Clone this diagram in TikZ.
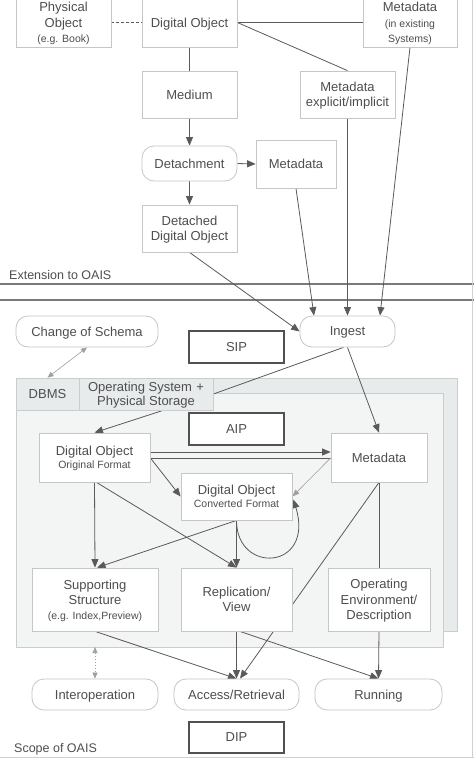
\documentclass[tikz,border=0pt]{standalone}
\usepackage{fontspec}
\setmainfont{Liberation Sans}
\usetikzlibrary{arrows.meta,calc}
\definecolor{txt}{HTML}{4E4E4E}
\definecolor{ln}{HTML}{5A5A5A}
\definecolor{lt}{HTML}{A0A0A0}
\definecolor{bx}{HTML}{C6C6C6}
\definecolor{pA}{HTML}{E8EBEC}
\definecolor{pB}{HTML}{F3F4F4}
\definecolor{pbd}{HTML}{C9CDCE}
\definecolor{sep}{HTML}{7A7A7A}
\pgfdeclarelayer{panel}\pgfdeclarelayer{lines}\pgfsetlayers{panel,lines,main}
\tikzset{
  box/.style={draw=bx, line width=0.8pt, fill=white, inner sep=0pt, align=center,
    text=txt, font=\fontsize{13}{15.5}\selectfont, text depth=0pt},
  rbox/.style={box, rounded corners=12pt},
  pkg/.style={draw=ln!90!black, line width=1.5pt, fill=white, inner sep=0pt, text depth=0pt,
    minimum width=95pt, minimum height=32pt, text=txt, font=\fontsize{13}{15}\selectfont},
  cell/.style={draw=pbd, line width=0.8pt, fill=pA, inner sep=0pt, align=center, text depth=0pt,
    text=txt, font=\fontsize{13}{14.5}\selectfont},
  conn/.style={draw=ln, line width=0.8pt},
  arr/.style={conn, -{Triangle[length=8.5pt,width=7pt]}},
  larr/.style={draw=lt, line width=0.6pt, -{Triangle[length=7pt,width=5.5pt]}},
  darr/.style={draw=lt, line width=0.6pt, {Triangle[length=6pt,width=5pt]}-{Triangle[length=6pt,width=5pt]}},
  lab/.style={text=txt, font=\fontsize{12.5}{15}\selectfont, anchor=west, inner sep=0pt, text depth=0pt},
}
\newcommand{\sm}[1]{{\fontsize{10.5}{12.5}\selectfont #1}}
\begin{document}
\begin{tikzpicture}[x=1pt,y=-1pt]
\clip (0,0) rectangle (474,758);

% panels
\begin{pgfonlayer}{panel}
  \fill[white] (0,0) rectangle (474,758);
  \draw[pbd, line width=0.8pt, fill=pA] (16,378) rectangle (457,631);
  \draw[pbd, line width=0.8pt, fill=pB] (16,393) rectangle (443,647);
  \draw[sep, line width=2pt] (0,283.5) -- (474,283.5);
  \draw[sep, line width=2pt] (0,299.5) -- (474,299.5);
  \draw[bx!80!white, line width=1.5pt] (472.5,0) -- (472.5,758);
  \draw[bx!80!white, line width=1.5pt] (0,757.5) -- (474,757.5);
\end{pgfonlayer}

% top nodes
\node[box, minimum width=95pt, minimum height=49pt] (phys) at (63.5,22.5)
  {Physical\\Object\\\sm{(e.g. Book)}};
\node[box, minimum width=95pt, minimum height=49pt] (digobj) at (189.5,22.5) {Digital Object};
\node[box, minimum width=94pt, minimum height=49pt] (metaex) at (410,22.5)
  {Metadata\\\sm{(in existing}\\\sm{Systems)}};
\node[box, minimum width=95pt, minimum height=47pt] (medium) at (189.5,94.5) {Medium};
\node[box, minimum width=95pt, minimum height=47pt] (metaexp) at (347.5,94.5)
  {Metadata\\explicit/implicit};
\node[rbox, minimum width=95pt, minimum height=35pt] (detach) at (189.5,163.5) {Detachment};
\node[box, minimum width=80pt, minimum height=48pt] (meta2) at (296,164) {Metadata};
\node[box, minimum width=95pt, minimum height=47pt] (detached) at (189.5,228.5)
  {Detached\\Digital Object};

\node[lab] (ext) at (9,275) {Extension to OAIS};

% OAIS part
\node[rbox, minimum width=95pt, minimum height=31pt] (ingest) at (347.5,331.5) {Ingest};
\node[rbox, minimum width=142pt, minimum height=31pt] (schema) at (87,331.5) {Change of Schema};
\node[pkg] (sip) at (236.5,347) {SIP};
\node[cell, minimum width=63pt, minimum height=32pt] (dbms) at (47.5,394) {DBMS};
\node[cell, minimum width=134pt, minimum height=32pt] (os) at (146,394)
  {Operating System\,\,+\\Physical Storage};
\node[pkg] (aip) at (236.5,429) {AIP};
\node[box, minimum width=111pt, minimum height=49pt] (doorig) at (94.5,457.5)
  {Digital Object\\[-2pt]\sm{Original Format}};
\node[box, minimum width=96pt, minimum height=49pt] (meta3) at (379,457.5) {Metadata};
\node[box, minimum width=111pt, minimum height=47pt] (doconv) at (236.5,496.5)
  {Digital Object\\[-2pt]\sm{Converted\,\,Format}};
\node[box, minimum width=126pt, minimum height=63pt] (supp) at (95,599.5)
  {Supporting\\Structure\\[-1pt]\sm{(e.g. Index,Preview)}};
\node[box, minimum width=111pt, minimum height=63pt] (repl) at (236.5,599.5)
  {Replication/\\View};
\node[box, minimum width=102pt, minimum height=63pt] (openv) at (379,599.5)
  {Operating\\Environment/\\Description};
\node[rbox, minimum width=126pt, minimum height=31pt] (interop) at (95,694.5) {Interoperation};
\node[rbox, minimum width=125pt, minimum height=31pt] (access) at (236.5,694.5) {Access/Retrieval};
\node[rbox, minimum width=127pt, minimum height=31pt] (running) at (378.5,694.5) {Running};
\node[pkg, minimum height=31pt] (dip) at (236.5,737.5) {DIP};
\node[lab] (scope) at (14,748) {Scope of OAIS};
\coordinate (pb) at (95,647);

% connectors
\begin{pgfonlayer}{lines}
  \draw[draw=ln, line width=0.7pt, dash pattern=on 3pt off 2pt] (phys.east) -- (digobj.west);
  \draw[conn] (digobj.east) -- (metaex.west);
  \draw[conn] (digobj.east) -- (metaexp.north);
  \draw[conn] (digobj.south) -- (medium.north);
  \draw[arr] (medium.south) -- (detach.north);
  \draw[arr] (detach.east) -- (meta2.west);
  \draw[arr] (detach.south) -- (detached.north);
  \draw[arr] (detached.south) -- (ingest.west);
  \draw[arr] (meta2.south) -- ($(ingest.north)+(-33.5,0)$);
  \draw[arr] (metaexp.south) -- (ingest.north);
  \draw[arr] (metaex.south) -- ($(ingest.north)+(32.5,0)$);
  \draw[darr] (schema.south) -- (dbms.north);
  \draw[arr] (ingest.south) -- (meta3.north);
  \draw[conn] ($(ingest.south)+(-4,0)$) -- (os.east);
  \draw[arr] ($(os.south)+(17,0)$) -- (doorig.north);
  \draw[arr] ($(doorig.east)+(0,-5.5)$) -- ($(meta3.west)+(0,-5.5)$);
  \draw[conn] ($(meta3.west)+(0,0.5)$) -- ($(doorig.east)+(0,0.5)$);
  \draw[arr] ($(doorig.east)+(0,0.5)$) -- (doconv.west);
  \draw[larr] ($(meta3.west)+(0,0.5)$) -- (doconv.east);
  \draw[arr] (doconv.south) .. controls (236.5,575) and (315,570) .. ($(doconv.east)+(1,3)$);
  \draw[arr] (doorig.south) -- (supp.north);
  \draw[arr] ($(doorig.south)+(2,0)$) -- (repl.north);
  \draw[arr] (doconv.south) -- (repl.north);
  \draw[arr] (doconv.south) -- ($(supp.north)+(2,0)$);
  \draw[arr] (meta3.south) -- ($(access.north)+(3.5,0)$);
  \draw[conn] (openv.north) -- (meta3.south);
  \draw[draw=lt, line width=0.6pt, dash pattern=on 1.5pt off 1.5pt,
    {Triangle[length=6pt,width=5pt]}-{Triangle[length=6pt,width=5pt]}] (pb) -- (interop.north);
  \draw[arr] (supp.south) -- (access.north);
  \draw[arr] (repl.south) -- (access.north);
  \draw[arr] ($(repl.south)+(3.5,0)$) -- (running.north);
  \draw[arr] (openv.south) -- (running.north);
\end{pgfonlayer}
\end{tikzpicture}
\end{document}
